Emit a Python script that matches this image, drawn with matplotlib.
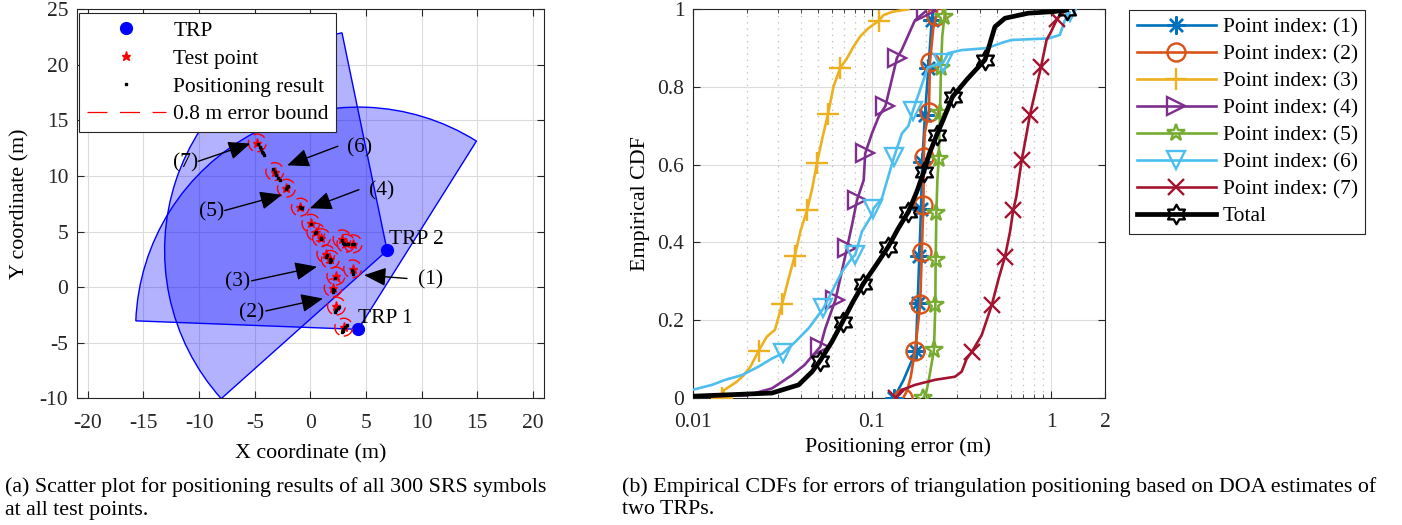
import numpy as np
import matplotlib
matplotlib.use("Agg")
import matplotlib.pyplot as plt
from matplotlib.patches import Wedge, Circle
from matplotlib.lines import Line2D
from matplotlib.path import Path
from matplotlib.ticker import FixedLocator, NullFormatter

plt.rcParams['font.family'] = ['Liberation Serif', 'DejaVu Serif']
plt.rcParams['axes.unicode_minus'] = False

# ---------------- scatter panel data ----------------
TRP_X = [4.3, 6.9]
TRP_Y = [-3.8, 3.3]
TRP_NAMES = ["TRP 1", "TRP 2"]
TRP_LABEL_X = [4.3, 7.05]
TRP_LABEL_Y = [-2.85, 4.3]
SECTOR_RADIUS = 20.0
SECTOR_FROM = [57.9, 101.7]     # degrees
SECTOR_TO = [177.8, 221.8]

TEST_X = [-4.77, -3.20, -2.15, -0.90, 0.05, 0.50, 1.00, 2.85, 3.20, 3.85,
          1.40, 1.80, 3.80, 2.30, 2.05, 2.35, 3.00]
TEST_Y = [12.98, 10.40, 8.90, 7.20, 5.75, 4.95, 4.45, 4.35, 3.95, 3.90,
          3.00, 2.50, 1.65, 1.00, -0.05, -1.70, -3.60]

RESULT_X = [-4.70, -4.55, -4.45, -4.35, -4.25, -4.15,
            -3.35, -3.20, -3.05, -2.90, -2.75,
            -2.10, -2.00, -2.20,
            -0.85, -0.75, -0.95,
            0.10, 0.45, 0.55, 1.00, 0.95,
            2.85, 3.00, 2.90, 3.30, 3.40, 3.90, 3.70,
            1.50, 1.45, 1.75, 1.90, 1.80,
            3.80, 3.85, 3.75, 2.25,
            2.00, 2.10, 2.05,
            2.20, 2.35, 2.50, 2.60,
            2.80, 2.95, 3.10, 3.25, 2.90]
RESULT_Y = [12.85, 12.60, 12.40, 12.20, 12.05, 11.90,
            10.60, 10.35, 10.10, 9.85, 9.60,
            9.00, 9.10, 8.85,
            7.15, 7.10, 7.25,
            5.70, 4.85, 4.95, 4.35, 4.45,
            4.20, 3.90, 4.00, 3.90, 3.85, 3.85, 3.90,
            2.85, 2.70, 2.30, 2.40, 2.55,
            1.20, 1.35, 1.50, 0.85,
            -0.40, -0.30, -0.20,
            -2.20, -2.05, -1.90, -1.75,
            -4.00, -3.80, -3.60, -3.40, -3.90]
ERROR_BOUND = 0.8

POINT_LABELS = ["(1)", "(2)", "(3)", "(4)", "(5)", "(6)", "(7)"]
LABEL_X = [10.78, -5.28, -6.57, 6.45, -8.90, 4.40, -11.24]
LABEL_Y = [0.70, -2.29, 0.48, 8.67, 6.81, 12.53, 11.20]
ARROW_FROM_X = [8.69, -4.00, -5.28, 4.36, -7.69, 2.47, -10.06]
ARROW_FROM_Y = [0.78, -2.14, 0.57, 8.77, 6.90, 12.68, 11.33]
ARROW_TO_X = [4.83, 1.14, 0.60, -0.05, -2.55, -2.08, -5.40]
ARROW_TO_Y = [1.08, -1.02, 1.84, 7.10, 8.31, 10.96, 12.92]

# ---------------- CDF panel data ----------------
SERIES_NAMES = ["Point index: (1)", "Point index: (2)", "Point index: (3)",
                "Point index: (4)", "Point index: (5)", "Point index: (6)",
                "Point index: (7)", "Total"]

err1 = [0.133, 0.150, 0.163, 0.176, 0.180, 0.184, 0.188, 0.191, 0.194, 0.198,
        0.203, 0.207, 0.212, 0.216, 0.222]
cdf1 = [0.000, 0.045, 0.084, 0.121, 0.243, 0.364, 0.486, 0.607, 0.660, 0.729,
        0.800, 0.850, 0.920, 0.972, 1.000]
mark1 = [0.000, 0.121, 0.243, 0.364, 0.486, 0.607, 0.729, 0.850, 0.972]

err2 = [0.150, 0.158, 0.165, 0.174, 0.180, 0.186, 0.190, 0.192, 0.194, 0.195,
        0.197, 0.208, 0.211, 0.220, 0.228, 0.232]
cdf2 = [0.000, 0.020, 0.055, 0.120, 0.180, 0.240, 0.375, 0.440, 0.497, 0.620,
        0.680, 0.735, 0.865, 0.950, 0.982, 1.000]
mark2 = [0.000, 0.120, 0.240, 0.375, 0.497, 0.620, 0.735, 0.865, 0.982]

err3 = [0.0145, 0.0150, 0.0175, 0.0190, 0.0210, 0.0233, 0.0259, 0.0288, 0.0315,
        0.0340, 0.0371, 0.0400, 0.0435, 0.0465, 0.0494, 0.0530, 0.0569, 0.0610,
        0.0667, 0.0720, 0.0790, 0.0860, 0.0955, 0.1090, 0.1160, 0.1310, 0.1600]
cdf3 = [0.000, 0.020, 0.040, 0.055, 0.080, 0.120, 0.157, 0.175, 0.240,
        0.300, 0.365, 0.430, 0.483, 0.540, 0.605, 0.670, 0.730, 0.800,
        0.850, 0.871, 0.904, 0.930, 0.951, 0.970, 0.985, 0.994, 1.000]
mark3 = [0.000, 0.120, 0.240, 0.365, 0.483, 0.605, 0.730, 0.850, 0.970]

err4 = [0.009, 0.020, 0.0277, 0.0358, 0.042, 0.0515, 0.055, 0.0625, 0.0666,
        0.0726, 0.0775, 0.0826, 0.090, 0.0918, 0.100, 0.109, 0.119, 0.129,
        0.138, 0.1466, 0.174, 0.200]
cdf4 = [0.003, 0.006, 0.024, 0.058, 0.084, 0.131, 0.179, 0.251, 0.307,
        0.385, 0.445, 0.509, 0.560, 0.629, 0.680, 0.723, 0.751, 0.818,
        0.875, 0.895, 0.972, 0.995]
mark4 = [0.131, 0.251, 0.385, 0.509, 0.629, 0.751, 0.875, 0.995]

err5 = [0.194, 0.200, 0.207, 0.222, 0.224, 0.226, 0.227, 0.229, 0.232, 0.236,
        0.238, 0.240, 0.243, 0.247, 0.254, 0.256]
cdf5 = [0.000, 0.010, 0.041, 0.123, 0.180, 0.239, 0.355, 0.475, 0.560, 0.614,
        0.680, 0.732, 0.848, 0.930, 0.981, 1.000]
mark5 = [0.000, 0.123, 0.239, 0.355, 0.475, 0.614, 0.732, 0.848, 0.981]

err6 = [0.009, 0.0128, 0.0152, 0.0188, 0.0233, 0.0277, 0.0318, 0.0374, 0.0444,
        0.0536, 0.0598, 0.0680, 0.0775, 0.0806, 0.0880, 0.1000, 0.1020, 0.1137,
        0.1330, 0.1470, 0.1600, 0.1690, 0.1850, 0.2050, 0.2500, 0.2670, 0.3170,
        0.4380, 0.5420, 0.6020, 0.9660, 1.1200, 1.1900, 1.2700]
cdf6 = [0.015, 0.033, 0.046, 0.058, 0.080, 0.101, 0.114, 0.144, 0.179,
        0.230, 0.273, 0.324, 0.360, 0.367, 0.428, 0.470, 0.487, 0.513,
        0.620, 0.680, 0.700, 0.738, 0.790, 0.850, 0.863, 0.887, 0.895,
        0.900, 0.915, 0.921, 0.925, 0.934, 0.970, 0.992]
mark6 = [0.114, 0.230, 0.367, 0.487, 0.620, 0.738, 0.863, 0.992]

err7 = [0.137, 0.147, 0.174, 0.225, 0.291, 0.317, 0.338, 0.361, 0.410, 0.467,
        0.510, 0.553, 0.590, 0.615, 0.640, 0.686, 0.731, 0.762, 0.813, 0.879,
        0.944, 1.000, 1.080, 1.146, 1.220]
cdf7 = [0.000, 0.020, 0.033, 0.046, 0.054, 0.067, 0.100, 0.118, 0.161, 0.239,
        0.307, 0.363, 0.427, 0.483, 0.518, 0.612, 0.681, 0.728, 0.784, 0.852,
        0.921, 0.942, 0.975, 0.990, 0.998]
mark7 = [0.000, 0.118, 0.239, 0.363, 0.483, 0.612, 0.728, 0.852, 0.975]

err8 = [0.009, 0.0277, 0.0390, 0.0464, 0.0514, 0.0600, 0.0687, 0.0780, 0.0897,
        0.1050, 0.1236, 0.1400, 0.1600, 0.1780, 0.1950, 0.2100, 0.2300, 0.2550,
        0.2820, 0.3400, 0.4280, 0.4860, 0.5530, 0.7460, 1.0300, 1.2200]
cdf8 = [0.003, 0.012, 0.033, 0.067, 0.095, 0.145, 0.196, 0.245, 0.294,
        0.340, 0.389, 0.435, 0.479, 0.530, 0.582, 0.630, 0.676, 0.725,
        0.775, 0.820, 0.870, 0.955, 0.977, 0.990, 0.994, 0.998]
mark8 = [0.095, 0.196, 0.294, 0.389, 0.479, 0.582, 0.676, 0.775, 0.870, 0.998]

SERIES_ERR = [err1, err2, err3, err4, err5, err6, err7, err8]
SERIES_CDF = [cdf1, cdf2, cdf3, cdf4, cdf5, cdf6, cdf7, cdf8]
SERIES_MARK = [mark1, mark2, mark3, mark4, mark5, mark6, mark7, mark8]

X_TICKS = [0.01, 0.1, 1, 2]
X_TICK_LABELS = ["0.01", "0.1", "1", "2"]
Y_TICKS = [0, 0.2, 0.4, 0.6, 0.8, 1.0]
Y_TICK_LABELS = ["0", "0.2", "0.4", "0.6", "0.8", "1"]

CAPTION_A = ["(a) Scatter plot for positioning results of all 300 SRS symbols",
             "at all test points."]
CAPTION_B = ["(b) Empirical CDFs for errors of triangulation positioning based on DOA estimates of",
             "two TRPs."]

# ---------------- styling ----------------
FS = 15.5          # ticks, annotations, legends
FS_LABEL = 15.8    # axis labels
FS_CAP = 15.8      # captions
W, H = 1402, 525
GRID_COLOR = "#dcdcdc"
AX_COLOR = "#262626"
COLORS = ["#0072BD", "#D95319", "#EDB120", "#7E2F8E", "#77AC30",
          "#4DBEEE", "#A2142F", "#000000"]

# six-pointed outline star (hexagram)
_ang = np.deg2rad(90 + np.arange(12) * 30)
_rad = np.where(np.arange(12) % 2 == 0, 1.0, 1 / np.sqrt(3))
_verts = np.column_stack([_rad * np.cos(_ang), _rad * np.sin(_ang)])
HEXAGRAM = Path(np.vstack([_verts, _verts[:1]]), closed=True)

MARKERS = [(8, 2, 0), "o", "+", ">", "*", "v", "x", HEXAGRAM]
MSIZES = [13, 13, 16, 13, 13, 13, 12, 14]


def style_axes(ax):
    for sp in ax.spines.values():
        sp.set_color(AX_COLOR)
        sp.set_linewidth(0.8)
    ax.tick_params(which="both", direction="in", top=True, right=True,
                   colors=AX_COLOR, labelcolor="#262626", labelsize=FS)
    ax.tick_params(which="major", length=5, width=0.8)
    ax.tick_params(which="minor", length=3, width=0.6)
    ax.tick_params(axis="x", which="major", pad=11)
    ax.tick_params(axis="y", which="major", pad=6)


fig = plt.figure(figsize=(W / 100, H / 100), dpi=100)

# ================= (a) scatter panel =================
ax1 = fig.add_axes([76.7 / W, 1 - 398.3 / H, 467.3 / W, 389.0 / H])
ax1.set_xlim(-21, 21)
ax1.set_ylim(-10, 25)
ax1.set_xticks(np.arange(-20, 21, 5))
ax1.set_yticks(np.arange(-10, 26, 5))
ax1.grid(True, color=GRID_COLOR, lw=0.8)
ax1.set_axisbelow(True)
style_axes(ax1)

for cx, cy, t1, t2 in zip(TRP_X, TRP_Y, SECTOR_FROM, SECTOR_TO):
    ax1.add_patch(Wedge((cx, cy), SECTOR_RADIUS, t1, t2,
                        facecolor=(0, 0, 1, 0.3), edgecolor="blue", lw=1.0,
                        zorder=1.5))

h_trp, = ax1.plot(TRP_X, TRP_Y, "o", color="blue", ms=8.5, ls="none",
                  zorder=4, label="TRP")
h_tp, = ax1.plot(TEST_X, TEST_Y, "*", color="red", ms=6.5, ls="none",
                 zorder=4, label="Test point")
h_res, = ax1.plot(RESULT_X, RESULT_Y, "s", color="black", ms=2.0, ls="none",
                  zorder=5, label="Positioning result")
for tx, ty in zip(TEST_X, TEST_Y):
    ax1.add_patch(Circle((tx, ty), ERROR_BOUND, fill=False, ec="red",
                         lw=1.0, ls=(0, (9, 5)), zorder=4.5))
h_bnd = Line2D([], [], color="red", lw=0.9, ls=(0, (16, 10)),
               label="0.8 m error bound")

for name, lx, ly in zip(TRP_NAMES, TRP_LABEL_X, TRP_LABEL_Y):
    ax1.text(lx, ly, name, ha="left", va="center", fontsize=FS, zorder=6)

for lab, lx, ly, fx, fy, tx, ty in zip(POINT_LABELS, LABEL_X, LABEL_Y,
                                       ARROW_FROM_X, ARROW_FROM_Y,
                                       ARROW_TO_X, ARROW_TO_Y):
    ax1.annotate("", xy=(tx, ty), xytext=(fx, fy),
                 arrowprops=dict(arrowstyle="-|>,head_length=0.9,head_width=0.38",
                                 color="black", lw=1.0, shrinkA=0, shrinkB=0,
                                 mutation_scale=15), zorder=6)
    ax1.text(lx, ly, lab, ha="center", va="center", fontsize=FS, zorder=6)

ax1.set_xlabel("X coordinate (m)", fontsize=FS_LABEL)
ax1.set_ylabel("Y coordinate (m)", fontsize=FS_LABEL)
ax1.xaxis.set_label_coords(0.5, (398.3 - 444) / 389.0)
ax1.yaxis.set_label_coords((29 - 76.7) / 467.3, 0.5)

leg1 = ax1.legend(handles=[h_trp, h_tp, h_res, h_bnd], loc="upper left",
                  bbox_to_anchor=(79 / W, 1 - 13.3 / H),
                  bbox_transform=fig.transFigure, borderaxespad=0,
                  fontsize=FS, handlelength=3.7, handletextpad=0.33,
                  labelspacing=0.36, borderpad=0.35, fancybox=False,
                  framealpha=1, edgecolor=AX_COLOR, numpoints=1)
leg1.get_frame().set_linewidth(0.8)
leg1.set_zorder(10)

# ================= (b) CDF panel =================
ax2 = fig.add_axes([692.7 / W, 1 - 397.7 / H, 412.3 / W, 388.4 / H])
ax2.set_xscale("log")
ax2.set_xlim(0.01, 2)
ax2.set_ylim(0, 1)
ax2.set_xticks(X_TICKS)
ax2.set_xticklabels(X_TICK_LABELS)
ax2.xaxis.set_minor_locator(FixedLocator(
    [k * 0.01 for k in range(2, 10)] + [k * 0.1 for k in range(2, 10)]))
ax2.xaxis.set_minor_formatter(NullFormatter())
ax2.set_yticks(Y_TICKS)
ax2.set_yticklabels(Y_TICK_LABELS)
ax2.grid(True, which="major", color=GRID_COLOR, lw=0.8)
ax2.grid(True, which="minor", axis="x", color="#bdbdbd", lw=0.9,
         ls=(0, (1, 4)))
ax2.set_axisbelow(True)
style_axes(ax2)

handles = []
for i, (e, c, mk) in enumerate(zip(SERIES_ERR, SERIES_CDF, SERIES_MARK)):
    c = np.asarray(c)
    idx = list(np.nonzero(np.isin(c, mk))[0])
    total = (i == len(SERIES_ERR) - 1)
    h, = ax2.plot(e, c, color=COLORS[i], lw=3.4 if total else 1.9,
                  marker=MARKERS[i], ms=MSIZES[i], mfc="none",
                  mew=1.7, markevery=idx, label=SERIES_NAMES[i],
                  zorder=3 + i * 0.1)
    handles.append(h)

ax2.set_xlabel("Positioning error (m)", fontsize=FS_LABEL)
ax2.set_ylabel("Empirical CDF", fontsize=FS_LABEL)
ax2.xaxis.set_label_coords((898 - 692.7) / 412.3, (397.7 - 437) / 388.4)
ax2.yaxis.set_label_coords((650 - 692.7) / 412.3, 0.5)

leg2 = fig.legend(handles=handles, loc="upper left",
                  bbox_to_anchor=(1129 / W, 1 - 10 / H), borderaxespad=0,
                  fontsize=FS, handlelength=3.7, handletextpad=0.3,
                  labelspacing=0.32, borderpad=0.35, fancybox=False,
                  framealpha=1, edgecolor=AX_COLOR, numpoints=1)
leg2.get_frame().set_linewidth(0.8)

# ---------------- captions ----------------
fig.text(5 / W, 1 - 487 / H, CAPTION_A[0], fontsize=FS_CAP, va="center", ha="left")
fig.text(5 / W, 1 - 510 / H, CAPTION_A[1], fontsize=FS_CAP, va="center", ha="left")
fig.text(622 / W, 1 - 487 / H, CAPTION_B[0], fontsize=FS_CAP, va="center", ha="left")
fig.text(622 / W, 1 - 510 / H, CAPTION_B[1], fontsize=FS_CAP, va="center", ha="left")

fig.savefig("out.png", dpi=100)
